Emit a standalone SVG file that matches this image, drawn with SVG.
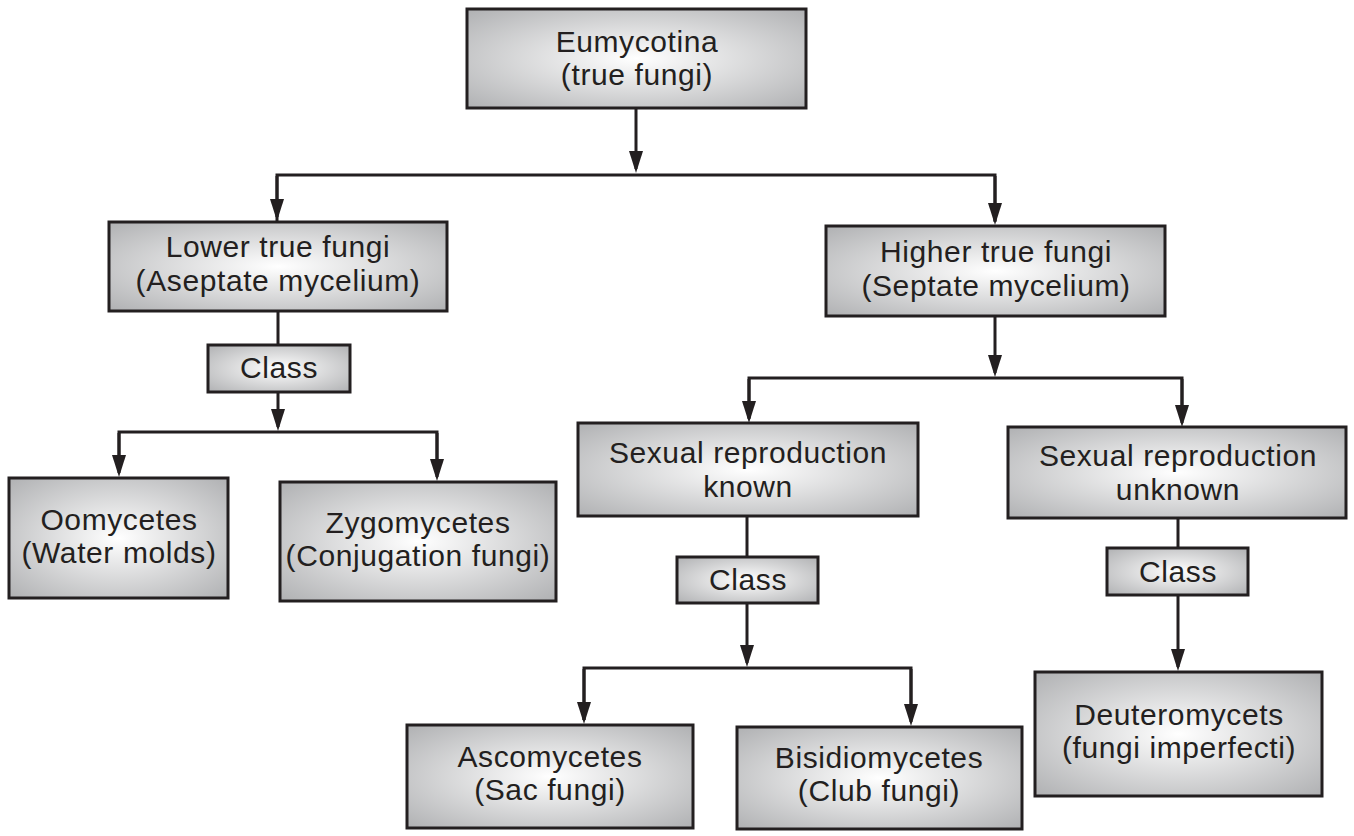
<svg xmlns="http://www.w3.org/2000/svg" width="1354" height="836" viewBox="0 0 1354 836">
<defs>
<radialGradient id="g" cx="0.5" cy="0.5" r="0.7">
<stop offset="0" stop-color="#ffffff"/>
<stop offset="1" stop-color="#b0b1b3"/>
</radialGradient>
<marker id="ah" viewBox="0 0 22 14" refX="18" refY="7" markerWidth="22" markerHeight="14" markerUnits="userSpaceOnUse" orient="auto">
<path d="M0,0 L22,7 L0,14 z" fill="#231f20"/>
</marker>
<style>
.box{fill:url(#g);stroke:#231f20;stroke-width:3}
.t{font-family:"Liberation Sans",Arial,sans-serif;font-size:30px;fill:#231f20;text-anchor:middle;letter-spacing:0.6px}
.c{fill:none;stroke:#231f20;stroke-width:3}
.a{fill:none;stroke:#231f20;stroke-width:3;marker-end:url(#ah)}
</style>
</defs>
<rect width="1354" height="836" fill="#ffffff"/>
<g id="connectors">
<line class="a" x1="636" y1="108" x2="636" y2="169"/>
<polyline class="c" points="277,222 277,175 995,175 995,222"/>
<line class="a" x1="277" y1="176" x2="277" y2="217"/>
<line class="a" x1="995" y1="176" x2="995" y2="221"/>
<line class="c" x1="278" y1="311" x2="278" y2="345"/>
<line class="a" x1="278" y1="392" x2="278" y2="427"/>
<polyline class="c" points="119,470 119,432 437,432 437,470"/>
<line class="a" x1="119" y1="433" x2="119" y2="473"/>
<line class="a" x1="437" y1="433" x2="437" y2="477"/>
<line class="a" x1="995" y1="316" x2="995" y2="373"/>
<polyline class="c" points="749,418 749,378 1182,378 1182,420"/>
<line class="a" x1="749" y1="379" x2="749" y2="419"/>
<line class="a" x1="1182" y1="379" x2="1182" y2="423"/>
<line class="c" x1="747" y1="516" x2="747" y2="557"/>
<line class="a" x1="747" y1="603" x2="747" y2="663"/>
<polyline class="c" points="584,720 584,668 911,668 911,720"/>
<line class="a" x1="584" y1="669" x2="584" y2="720"/>
<line class="a" x1="911" y1="669" x2="911" y2="722"/>
<line class="c" x1="1178" y1="518" x2="1178" y2="548"/>
<line class="a" x1="1178" y1="595" x2="1178" y2="667"/>
</g>
<g id="eumycotina">
<rect class="box" x="467" y="9" width="339" height="99"/>
<text class="t" x="637" y="52">Eumycotina</text>
<text class="t" x="637" y="85">(true fungi)</text>
</g>
<g id="lower">
<rect class="box" x="109" y="222" width="338" height="89"/>
<text class="t" x="278" y="257">Lower true fungi</text>
<text class="t" x="278" y="291">(Aseptate mycelium)</text>
</g>
<g id="class1">
<rect class="box" x="208" y="345" width="142" height="47"/>
<text class="t" x="279" y="378">Class</text>
</g>
<g id="oomycetes">
<rect class="box" x="9" y="478" width="219" height="120"/>
<text class="t" x="119" y="530">Oomycetes</text>
<text class="t" x="119" y="563">(Water molds)</text>
</g>
<g id="zygomycetes">
<rect class="box" x="280" y="482" width="276" height="119"/>
<text class="t" x="418" y="533">Zygomycetes</text>
<text class="t" x="418" y="566">(Conjugation fungi)</text>
</g>
<g id="higher">
<rect class="box" x="826" y="226" width="339" height="90"/>
<text class="t" x="996" y="262">Higher true fungi</text>
<text class="t" x="996" y="296">(Septate mycelium)</text>
</g>
<g id="sexknown">
<rect class="box" x="578" y="423" width="340" height="93"/>
<text class="t" x="748" y="463">Sexual reproduction</text>
<text class="t" x="748" y="497">known</text>
</g>
<g id="class2">
<rect class="box" x="677" y="557" width="141" height="46"/>
<text class="t" x="748" y="590">Class</text>
</g>
<g id="sexunknown">
<rect class="box" x="1008" y="427" width="338" height="91"/>
<text class="t" x="1178" y="466">Sexual reproduction</text>
<text class="t" x="1178" y="500">unknown</text>
</g>
<g id="class3">
<rect class="box" x="1107" y="548" width="141" height="47"/>
<text class="t" x="1178" y="582">Class</text>
</g>
<g id="ascomycetes">
<rect class="box" x="407" y="725" width="286" height="103"/>
<text class="t" x="550" y="767">Ascomycetes</text>
<text class="t" x="550" y="800">(Sac fungi)</text>
</g>
<g id="bisidiomycetes">
<rect class="box" x="737" y="727" width="285" height="102"/>
<text class="t" x="879" y="768">Bisidiomycetes</text>
<text class="t" x="879" y="801">(Club fungi)</text>
</g>
<g id="deuteromycets">
<rect class="box" x="1035" y="672" width="287" height="124"/>
<text class="t" x="1179" y="725">Deuteromycets</text>
<text class="t" x="1179" y="758">(fungi imperfecti)</text>
</g>
</svg>
